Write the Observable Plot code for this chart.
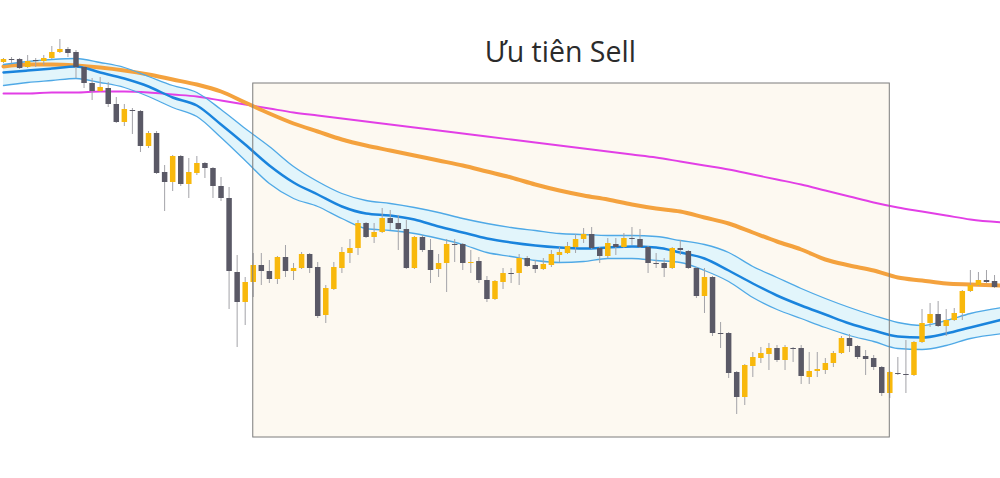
<!DOCTYPE html>
<html><head><meta charset="utf-8">
<script src="https://cdn.jsdelivr.net/npm/d3@7"></script>
<script src="https://cdn.jsdelivr.net/npm/@observablehq/plot@0.6"></script>
<style>body{margin:0;background:#fff}#chart svg{display:block}</style>
</head><body><div id="chart"></div>
<script>
// Candles (price units), one per bar index 0..123
const opens  = [418,421,421,413,420,419,422,428,431,428,413,397,389,392,376,358,370,369,334,347,308,298,324,296,307,317,312,294,282,208,178,198,215,209,201,223,209,212,226,213,165,191,212,227,232,257,243,248,262,257,251,212,243,230,211,217,236,236,217,219,200,181,198,207,207,222,215,211,215,225,227,233,241,246,232,224,236,233,242,241,233,217,217,212,232,229,212,184,203,147,147,108,83,114,122,126,132,120,132,132,103,109,110,117,127,142,134,124,122,113,87,107,106,105,138,157,166,154,160,167,189,195,200,199];
const highs  = [422,423,422,425,422,425,434,441,433,430,414,402,403,398,383,376,372,370,349,349,315,325,325,322,324,318,313,303,293,225,203,227,227,220,224,235,217,228,227,218,195,218,233,241,260,258,257,272,270,265,260,244,245,241,226,241,241,237,230,223,204,200,212,212,226,224,220,222,230,233,238,246,252,253,233,242,242,247,253,251,234,227,222,233,240,230,213,212,204,158,148,109,116,128,133,137,135,135,133,135,128,128,122,129,144,146,135,130,125,114,109,123,140,139,171,177,179,171,172,190,210,208,210,205];
const lows   = [417,417,411,412,413,415,421,427,423,402,392,380,388,373,357,354,346,328,332,306,269,289,294,282,305,302,282,279,171,133,155,183,195,197,196,203,200,211,207,162,157,190,207,217,225,242,237,247,250,230,211,211,228,197,203,188,218,210,207,197,178,180,191,197,195,213,207,210,213,218,226,227,237,231,217,222,225,232,235,232,207,212,203,211,225,211,182,167,144,132,102,66,75,103,117,110,118,110,118,96,96,103,106,113,126,128,121,105,110,84,82,105,87,104,137,153,153,144,159,160,188,194,197,192];
const closes = [421,420,412,419,419,422,428,431,427,413,397,389,393,376,358,371,369,334,347,307,298,324,296,308,317,312,294,282,209,178,198,215,209,201,223,209,212,226,212,164,192,213,228,232,257,243,248,262,257,251,212,243,230,210,217,236,235,217,218,200,181,199,207,206,222,214,211,216,226,228,234,241,246,232,224,237,233,242,241,233,217,216,212,232,230,212,184,203,147,146,107,83,115,123,127,132,120,133,131,104,109,111,117,127,142,134,123,121,113,87,108,106,105,138,157,166,154,160,167,189,195,200,198,193];

// Indicator lines, sampled at bar indices
const lineIdx  = [0,3,6,9,12,15,18,21,24,27,30,33,36,39,42,45,48,51,54,57,60,63,66,69,72,75,78,81,84,87,90,93,96,99,102,105,108,111,114,117,120,124];
const bandMid  = [408,410,412,414,408,402,394,383,375,356,336,315,298,286,274,267,265,261,254,248,242,238,235,233,232,233,234,233,228,222,210,197,185,175,166,157,150,144,143,147,153,161];
const bandUp   = [416,419,421,422,418,413,404,395,388,371,352,334,314,299,287,280,277,273,268,262,257,253,250,247,246,245,245,244,240,236,228,214,203,192,182,173,165,158,155,160,167,173];
const bandLow  = [395,398,400,402,398,393,384,373,364,343,320,297,282,274,262,252,250,247,242,236,228,224,220,218,219,222,222,220,218,210,199,183,171,162,153,145,139,132,131,135,142,147];
const maOrange = [414,416,416,415,413,410,406,401,396,389,378,367,357,349,341,335,330,325,320,315,309,303,296,290,285,281,276,272,269,263,257,248,239,231,221,215,210,203,200,197,196,195];
const maMagenta= [387,387,388,388,389,389,388,386,384,380,376,372,368,365,362,359,356,353,350,347,344,341,338,335,332,329,326,323,319,315,311,306,301,296,290,284,278,273,269,265,261,258];

// Highlighted zone
const zoneLabel = "Ưu tiên Sell";
const zoneStart = 31, zoneEnd = 110, zoneTop = 397, zoneBottom = 43;
const labelAt = {i: 69.1, price: 428};

const candles = opens.map((o, i) => ({i, open: o, high: highs[i], low: lows[i], close: closes[i]}));
const lines = lineIdx.map((i, k) => ({i, mid: bandMid[k], up: bandUp[k], low: bandLow[k], orange: maOrange[k], magenta: maMagenta[k]}));
const zone = [{x1: zoneStart, x2: zoneEnd, y1: zoneBottom, y2: zoneTop}];

const YELLOW = "#f8b80c", DARK = "#5a5966";
const curve = "monotone-x";

const chart = Plot.plot({
  width: 1000, height: 478, margin: 0,
  x: {domain: [-0.37, 123.74], axis: null},
  y: {domain: [2, 480], axis: null},
  style: {background: "#ffffff"},
  marks: [
    Plot.rect(zone, {x1: "x1", x2: "x2", y1: "y1", y2: "y2", fill: "#fdf9f1"}),
    Plot.areaY(lines, {x: "i", y1: "low", y2: "up", fill: "#e2f5fb", curve}),
    Plot.line(lines, {x: "i", y: "magenta", stroke: "#e23fe6", strokeWidth: 1.9, curve}),
    Plot.line(lines, {x: "i", y: "orange", stroke: "#f4a23e", strokeWidth: 4, curve}),
    Plot.line(lines, {x: "i", y: "up", stroke: "#4fa9e6", strokeWidth: 1.3, curve}),
    Plot.line(lines, {x: "i", y: "low", stroke: "#4fa9e6", strokeWidth: 1.3, curve}),
    Plot.line(lines, {x: "i", y: "mid", stroke: "#1a84dd", strokeWidth: 2.5, curve}),
    Plot.ruleX(candles, {x: "i", y1: "low", y2: "high", stroke: "#a3a3a8", strokeWidth: 1}),
    Plot.ruleX(candles, {x: "i", y1: "open", y2: d => d.close === d.open ? d.open + 1 : d.close,
      stroke: d => d.close >= d.open ? YELLOW : DARK, strokeWidth: 5.5}),
    Plot.rect(zone, {x1: "x1", x2: "x2", y1: "y1", y2: "y2", fill: "none", stroke: "#7c7c7c", strokeWidth: 1}),
    Plot.text([zoneLabel], {x: () => labelAt.i, y: () => labelAt.price, text: d => d,
      fontSize: 28.5, fill: "#2b2b2b", fontFamily: "'Open Sans', sans-serif", textAnchor: "middle", lineAnchor: "middle"})
  ]
});
document.getElementById("chart").appendChild(chart);
</script>
</body></html>
